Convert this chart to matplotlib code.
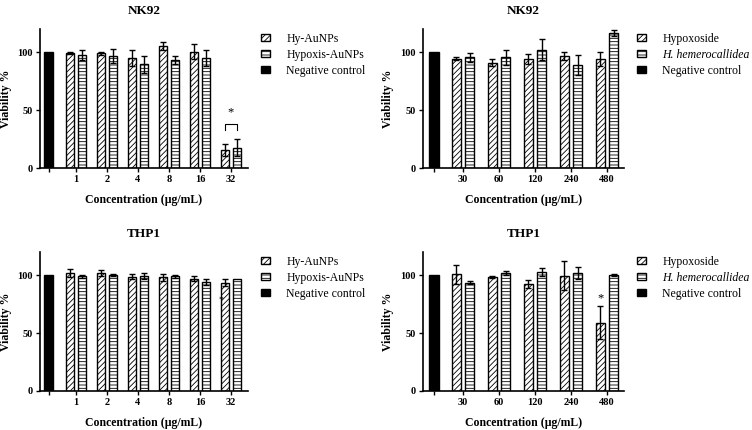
import matplotlib
matplotlib.use("Agg")
import numpy as np
from matplotlib import pyplot as plt

plt.rcParams["font.family"] = ["Liberation Serif", "DejaVu Serif"]
plt.rcParams["hatch.linewidth"] = 0.6

# AuNP panels (left column)
au_conc = ["1", "2", "4", "8", "16", "32"]
nk_hy_au = [99.5, 99, 95, 105.5, 100.5, 15.5]
nk_hy_au_err = [0.8, 1.2, 7, 3.5, 6.5, 5]
nk_hyp_au = [97.5, 97, 89.5, 93.5, 95, 17.5]
nk_hyp_au_err = [4, 6, 7.5, 3.5, 7, 7.5]
thp_hy_au = [101.7, 101.7, 98.6, 98.3, 97, 93.3]
thp_hy_au_err = [3.5, 2.5, 2, 3, 2, 3]
thp_hyp_au = [99, 100.3, 99.4, 99, 94, 96.5]
thp_hyp_au_err = [1.5, 1, 2.5, 1.5, 2.5, 0]

# Extract panels (right column)
ex_conc = ["30", "60", "120", "240", "480"]
nk_hx = [94.5, 91, 94, 96.8, 94.2]
nk_hx_err = [1, 3, 4.5, 3.2, 5.8]
nk_hh = [95.4, 95.7, 102, 89, 116.5]
nk_hh_err = [4, 6.5, 9, 8.7, 2.3]
thp_hx = [100.8, 98.6, 92, 99.6, 59]
thp_hx_err = [8, 0.7, 3.5, 12.4, 14.4]
thp_hh = [93.6, 102, 103, 101.8, 100.5]
thp_hh_err = [1, 1.5, 3.5, 5, 0.8]

control = 100.0

W, H = 752, 430
fig = plt.figure(figsize=(W / 100, H / 100), dpi=100)


def px_axes(left, right, bottom, top):
    return fig.add_axes([left / W, 1 - bottom / H, (right - left) / W, (bottom - top) / H])


def panel(ax, title, conc, a, a_err, b, b_err, names, ctrl_pos, xlim, width, off, cw, ylab_x):
    x = np.arange(1, len(conc) + 1)
    ax.bar([ctrl_pos], [control], width=cw, color="black", edgecolor="black",
           linewidth=1, label=names[2], zorder=2)
    ax.bar(x - off, a, width=width, color="white", edgecolor="black", hatch="//////",
           linewidth=1, label=names[0], zorder=2)
    ax.bar(x + off, b, width=width, color="white", edgecolor="black", hatch="-----",
           linewidth=1, label=names[1], zorder=2)
    ax.errorbar(x - off, a, yerr=a_err, fmt="none", ecolor="black", elinewidth=1,
                capsize=2.2, capthick=1, zorder=3)
    bx = [xi + off for xi, e in zip(x, b_err) if e > 0]
    by = [v for v, e in zip(b, b_err) if e > 0]
    be = [e for e in b_err if e > 0]
    ax.errorbar(bx, by, yerr=be, fmt="none", ecolor="black", elinewidth=1,
                capsize=2.2, capthick=1, zorder=3)
    ax.set_xlim(*xlim)
    ax.set_ylim(0, 120)
    ax.set_yticks([0, 50, 100])
    ax.set_xticks([ctrl_pos] + list(x))
    ax.set_xticklabels([""] + conc)
    for s in ["top", "right"]:
        ax.spines[s].set_visible(False)
    for s in ["left", "bottom"]:
        ax.spines[s].set_linewidth(1.2)
    ax.tick_params(direction="out", length=3, width=1, labelsize=7.5, pad=2)
    for lab in ax.get_xticklabels() + ax.get_yticklabels():
        lab.set_fontweight("bold")
    ax.set_xlabel("Concentration (\u00b5g/mL)", fontsize=8.5, fontweight="bold", labelpad=7)
    ax.set_ylabel("Viability %", fontsize=8.5, fontweight="bold")
    ax.yaxis.set_label_coords(ylab_x, 0.5)
    ax.set_title(title, fontsize=9.5, fontweight="bold", pad=11)
    return x


def legend(ax, anchor, italic_second=False):
    h, l = ax.get_legend_handles_labels()
    order = [1, 2, 0]
    leg = ax.legend([h[i] for i in order], [l[i] for i in order], loc="upper left",
                    bbox_to_anchor=(anchor[0] / W, 1 - anchor[1] / H),
                    bbox_transform=fig.transFigure, frameon=False, fontsize=8.5,
                    handlelength=0.75, handleheight=0.55, handletextpad=1.4,
                    labelspacing=0.33, borderaxespad=0, borderpad=0)
    if italic_second:
        leg.get_texts()[1].set_fontstyle("italic")


au_names = ["Hy-AuNPs", "Hypoxis-AuNPs", "Negative control"]
ex_names = ["Hypoxoside", "H. hemerocallidea", "Negative control"]

# top-left
ax1 = px_axes(40, 248, 168, 29)
x1 = panel(ax1, "NK92", au_conc, nk_hy_au, nk_hy_au_err, nk_hyp_au, nk_hyp_au_err,
           au_names, 0.13, (-0.16, 6.55), 0.27, 0.19, 0.29, -0.135)
g = x1[-1]
ax1.plot([g - 0.19, g - 0.19, g + 0.19, g + 0.19], [33, 38, 38, 33], color="black", lw=0.8)
ax1.text(g, 48, "*", ha="center", va="center", fontsize=9)
legend(ax1, (261, 33))

# top-right
ax2 = px_axes(423, 624, 168, 29)
x2 = panel(ax2, "NK92", ex_conc, nk_hx, nk_hx_err, nk_hh, nk_hh_err,
           ex_names, 0.2, (-0.11, 5.47), 0.25, 0.19, 0.27, -0.145)
legend(ax2, (637, 33), italic_second=True)

# bottom-left
ax3 = px_axes(40, 248, 391, 252)
x3 = panel(ax3, "THP1", au_conc, thp_hy_au, thp_hy_au_err, thp_hyp_au, thp_hyp_au_err,
           au_names, 0.13, (-0.16, 6.55), 0.27, 0.19, 0.29, -0.135)
ax3.text(x3[-1] - 0.31, 79, "*", ha="center", va="center", fontsize=7)
legend(ax3, (261, 256))

# bottom-right
ax4 = px_axes(423, 624, 391, 252)
x4 = panel(ax4, "THP1", ex_conc, thp_hx, thp_hx_err, thp_hh, thp_hh_err,
           ex_names, 0.2, (-0.11, 5.47), 0.25, 0.19, 0.27, -0.145)
ax4.text(x4[-1] - 0.19, 80, "*", ha="center", va="center", fontsize=9)
legend(ax4, (637, 256), italic_second=True)

fig.savefig("out.png", dpi=100)
